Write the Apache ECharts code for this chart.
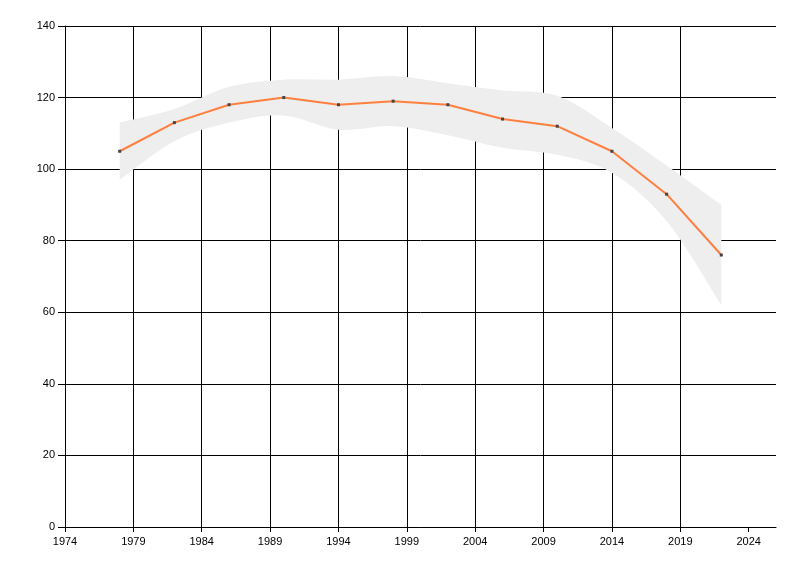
<!DOCTYPE html>
<html><head><meta charset="utf-8">
<script src="https://cdn.jsdelivr.net/npm/echarts@6/dist/echarts.min.js"></script>
<style>html,body{margin:0;padding:0;background:#fff}#c{width:800px;height:576px}</style>
</head><body><div id="c"></div>
<script>
const years = [1978,1982,1986,1990,1994,1998,2002,2006,2010,2014,2018,2022];
const meanVals = [105,113,118,120,118,119,118,114,112,105,93,76];
const upperVals = [113,116.8,123,125,125,126,124,122,120.5,111.5,101,90];
const lowerVals = [97,107.8,113,115,111,112,109.5,106,104,99,85.5,62];
const xTicks = [1974,1979,1984,1989,1994,1999,2004,2009,2014,2019,2024];

function splinePath(pts, startMove) {
  let d = (startMove ? 'M' : 'L') + pts[0][0] + ',' + pts[0][1];
  const n = pts.length;
  for (let i = 0; i < n - 1; i++) {
    const p0 = pts[Math.max(i - 1, 0)], p1 = pts[i], p2 = pts[i + 1], p3 = pts[Math.min(i + 2, n - 1)];
    const c1x = p1[0] + (p2[0] - p0[0]) / 6, c1y = p1[1] + (p2[1] - p0[1]) / 6;
    const c2x = p2[0] - (p3[0] - p1[0]) / 6, c2y = p2[1] - (p3[1] - p1[1]) / 6;
    d += 'C' + c1x + ',' + c1y + ' ' + c2x + ',' + c2y + ' ' + p2[0] + ',' + p2[1];
  }
  return d;
}

const font = {fontFamily:'Liberation Sans', fontSize:11, color:'#000'};
const chart = echarts.init(document.getElementById('c'), null, {renderer:'canvas'});
chart.setOption({
  animation:false,
  backgroundColor:'#fff',
  grid:{left:65,right:24,top:26,bottom:49,containLabel:false},
  xAxis:{type:'value',min:1974,max:2026,interval:5,
    axisLine:{show:true,onZero:false,lineStyle:{color:'#000',width:1}},
    axisTick:{show:true,length:5,lineStyle:{color:'#000'},customValues:xTicks},
    axisLabel:Object.assign({margin:9,customValues:xTicks,formatter:v=>String(v)},font),
    splitLine:{show:true,showMaxLine:false,lineStyle:{color:'#000',width:1}}},
  yAxis:{type:'value',min:0,max:140,interval:20,
    axisLine:{show:true,lineStyle:{color:'#000',width:1}},
    axisTick:{show:true,length:7,lineStyle:{color:'#000'}},
    axisLabel:Object.assign({margin:10},font),
    splitLine:{show:true,lineStyle:{color:'#000',width:1}}},
  series:[
    {type:'custom',silent:true,clip:true,
     encode:{x:0,y:[1,2]},
     data:years.map((y,i)=>[y,lowerVals[i],upperVals[i]]),
     renderItem:function(params, api){
       if (params.dataIndexInside !== 0) return null;
       const n = params.dataInsideLength;
       const up = [], lo = [];
       for (let i = 0; i < n; i++) {
         up.push(api.coord([api.value(0,i), api.value(2,i)]));
         lo.push(api.coord([api.value(0,i), api.value(1,i)]));
       }
       lo.reverse();
       const d = splinePath(up, true) + splinePath(lo, false) + 'Z';
       return {type:'path', shape:{pathData:d}, style:{fill:'#eeeeee', stroke:null}};
     }},
    {type:'line',smooth:false,symbol:'rect',symbolSize:3,z:3,
     itemStyle:{color:'#444'},lineStyle:{color:'#ff7f3f',width:2},
     data:years.map((y,i)=>[y,meanVals[i]])}
  ]
});
</script></body></html>
